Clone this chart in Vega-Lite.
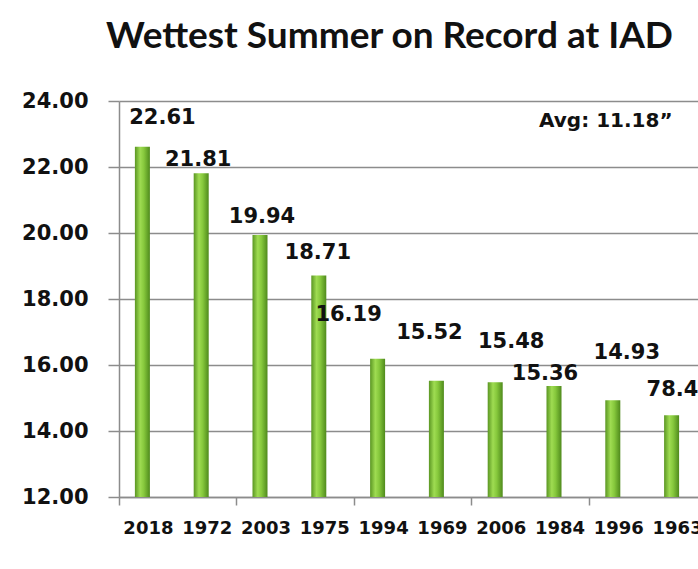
{
  "$schema": "https://vega.github.io/schema/vega-lite/v6.json",
  "width": 579,
  "height": 396,
  "autosize": {"type": "none"},
  "padding": {"left": 119, "top": 101, "right": 0, "bottom": 72},
  "background": "white",
  "title": {
    "text": "Wettest Summer on Record at IAD",
    "font": "Lato",
    "fontWeight": "bold",
    "fontSize": 37,
    "color": "#111111",
    "anchor": "middle",
    "frame": "group",
    "dx": -19,
    "offset": 34
  },
  "data": {
    "values": [
      {"year": "2018", "rain": 22.61, "label": "22.61"},
      {"year": "1972", "rain": 21.81, "label": "21.81"},
      {"year": "2003", "rain": 19.94, "label": "19.94"},
      {"year": "1975", "rain": 18.71, "label": "18.71"},
      {"year": "1994", "rain": 16.19, "label": "16.19"},
      {"year": "1969", "rain": 15.52, "label": "15.52"},
      {"year": "2006", "rain": 15.48, "label": "15.48"},
      {"year": "1984", "rain": 15.36, "label": "15.36"},
      {"year": "1996", "rain": 14.93, "label": "14.93"},
      {"year": "1963", "rain": 14.48, "label": "78.4"}
    ]
  },
  "resolve": {"axis": {"x": "independent"}},
  "layer": [
    {
      "mark": {
        "type": "bar",
        "size": 15,
        "xOffset": -6,
        "color": {
          "gradient": "linear",
          "x1": 0, "x2": 1, "y1": 0, "y2": 0,
          "stops": [
            {"offset": 0, "color": "#5a9622"},
            {"offset": 0.35, "color": "#9fdc52"},
            {"offset": 0.6, "color": "#86c83c"},
            {"offset": 1, "color": "#4f8a1c"}
          ]
        }
      },
      "encoding": {
        "x": {
          "field": "year",
          "type": "nominal",
          "sort": null,
          "scale": {
            "domain": ["2018", "1972", "2003", "1975", "1994", "1969", "2006", "1984", "1996", "1963"],
            "range": [0, 588],
            "paddingInner": 0,
            "paddingOuter": 0
          },
          "axis": {
            "orient": "bottom",
            "title": null,
            "labelAngle": 0,
            "ticks": false,
            "domain": true,
            "domainColor": "#8c8c8c",
            "domainWidth": 1.5,
            "labelFont": "DejaVu Sans",
            "labelFontWeight": "bold",
            "labelFontSize": 18,
            "labelColor": "#111111",
            "labelPadding": 22,
            "labelOverlap": false
          }
        },
        "y": {
          "field": "rain",
          "type": "quantitative",
          "scale": {"domain": [12, 24], "zero": false, "nice": false},
          "axis": {
            "title": null,
            "values": [12, 14, 16, 18, 20, 22, 24],
            "format": ".2f",
            "labelFont": "DejaVu Sans",
            "labelFontWeight": "bold",
            "labelFontSize": 21,
            "labelColor": "#111111",
            "labelPadding": 20,
            "tickSize": 11,
            "tickColor": "#8c8c8c",
            "tickWidth": 1.5,
            "domainColor": "#8c8c8c",
            "domainWidth": 1.5,
            "grid": true,
            "gridColor": "#8c8c8c",
            "gridWidth": 1.5
          }
        },
        "y2": {"datum": 12}
      }
    },
    {
      "mark": {"type": "text", "opacity": 0},
      "encoding": {
        "x": {
          "field": "year",
          "type": "nominal",
          "sort": null,
          "axis": {
            "orient": "bottom",
            "title": null,
            "values": ["2018", "2003", "1994", "2006", "1996"],
            "bandPosition": 0,
            "labels": false,
            "domain": false,
            "grid": false,
            "ticks": true,
            "tickSize": 8,
            "tickColor": "#8c8c8c",
            "tickWidth": 1.5
          }
        },
        "y": {"field": "rain", "type": "quantitative"},
        "text": {"field": "label"}
      }
    },
    {
      "transform": [{"filter": "datum.year === '2018'"}],
      "mark": {"type": "text", "font": "DejaVu Sans", "fontWeight": "bold", "fontSize": 21, "color": "#111111", "baseline": "middle", "align": "center", "dx": 14, "dy": -29},
      "encoding": {"x": {"field": "year", "type": "nominal", "sort": null, "axis": null}, "y": {"field": "rain", "type": "quantitative"}, "text": {"field": "label"}}
    },
    {
      "transform": [{"filter": "datum.year === '1972'"}],
      "mark": {"type": "text", "font": "DejaVu Sans", "fontWeight": "bold", "fontSize": 21, "color": "#111111", "baseline": "middle", "align": "center", "dx": -9, "dy": -13},
      "encoding": {"x": {"field": "year", "type": "nominal", "sort": null, "axis": null}, "y": {"field": "rain", "type": "quantitative"}, "text": {"field": "label"}}
    },
    {
      "transform": [{"filter": "datum.year === '2003'"}],
      "mark": {"type": "text", "font": "DejaVu Sans", "fontWeight": "bold", "fontSize": 21, "color": "#111111", "baseline": "middle", "align": "center", "dx": -4, "dy": -18},
      "encoding": {"x": {"field": "year", "type": "nominal", "sort": null, "axis": null}, "y": {"field": "rain", "type": "quantitative"}, "text": {"field": "label"}}
    },
    {
      "transform": [{"filter": "datum.year === '1975'"}],
      "mark": {"type": "text", "font": "DejaVu Sans", "fontWeight": "bold", "fontSize": 21, "color": "#111111", "baseline": "middle", "align": "center", "dx": -7, "dy": -23},
      "encoding": {"x": {"field": "year", "type": "nominal", "sort": null, "axis": null}, "y": {"field": "rain", "type": "quantitative"}, "text": {"field": "label"}}
    },
    {
      "transform": [{"filter": "datum.year === '1994'"}],
      "mark": {"type": "text", "font": "DejaVu Sans", "fontWeight": "bold", "fontSize": 21, "color": "#111111", "baseline": "middle", "align": "center", "dx": -35, "dy": -44},
      "encoding": {"x": {"field": "year", "type": "nominal", "sort": null, "axis": null}, "y": {"field": "rain", "type": "quantitative"}, "text": {"field": "label"}}
    },
    {
      "transform": [{"filter": "datum.year === '1969'"}],
      "mark": {"type": "text", "font": "DejaVu Sans", "fontWeight": "bold", "fontSize": 21, "color": "#111111", "baseline": "middle", "align": "center", "dx": -13, "dy": -48},
      "encoding": {"x": {"field": "year", "type": "nominal", "sort": null, "axis": null}, "y": {"field": "rain", "type": "quantitative"}, "text": {"field": "label"}}
    },
    {
      "transform": [{"filter": "datum.year === '2006'"}],
      "mark": {"type": "text", "font": "DejaVu Sans", "fontWeight": "bold", "fontSize": 21, "color": "#111111", "baseline": "middle", "align": "center", "dx": 10, "dy": -40},
      "encoding": {"x": {"field": "year", "type": "nominal", "sort": null, "axis": null}, "y": {"field": "rain", "type": "quantitative"}, "text": {"field": "label"}}
    },
    {
      "transform": [{"filter": "datum.year === '1984'"}],
      "mark": {"type": "text", "font": "DejaVu Sans", "fontWeight": "bold", "fontSize": 21, "color": "#111111", "baseline": "middle", "align": "center", "dx": -15, "dy": -12},
      "encoding": {"x": {"field": "year", "type": "nominal", "sort": null, "axis": null}, "y": {"field": "rain", "type": "quantitative"}, "text": {"field": "label"}}
    },
    {
      "transform": [{"filter": "datum.year === '1996'"}],
      "mark": {"type": "text", "font": "DejaVu Sans", "fontWeight": "bold", "fontSize": 21, "color": "#111111", "baseline": "middle", "align": "center", "dx": 8, "dy": -47},
      "encoding": {"x": {"field": "year", "type": "nominal", "sort": null, "axis": null}, "y": {"field": "rain", "type": "quantitative"}, "text": {"field": "label"}}
    },
    {
      "transform": [{"filter": "datum.year === '1963'"}],
      "mark": {"type": "text", "font": "DejaVu Sans", "fontWeight": "bold", "fontSize": 21, "color": "#111111", "baseline": "middle", "align": "left", "dx": -31, "dy": -25},
      "encoding": {"x": {"field": "year", "type": "nominal", "sort": null, "axis": null}, "y": {"field": "rain", "type": "quantitative"}, "text": {"field": "label"}}
    },
    {
      "data": {"values": [{"pos": "1996", "level": 23.38, "note": "Avg: 11.18”"}]},
      "mark": {
        "type": "text",
        "font": "DejaVu Sans",
        "fontWeight": "bold",
        "fontSize": 20,
        "color": "#111111",
        "baseline": "middle",
        "align": "center",
        "dx": -13
      },
      "encoding": {
        "x": {"field": "pos", "type": "nominal", "sort": null, "axis": null},
        "y": {"field": "level", "type": "quantitative"},
        "text": {"field": "note"}
      }
    }
  ],
  "config": {
    "view": {"stroke": null}
  }
}
